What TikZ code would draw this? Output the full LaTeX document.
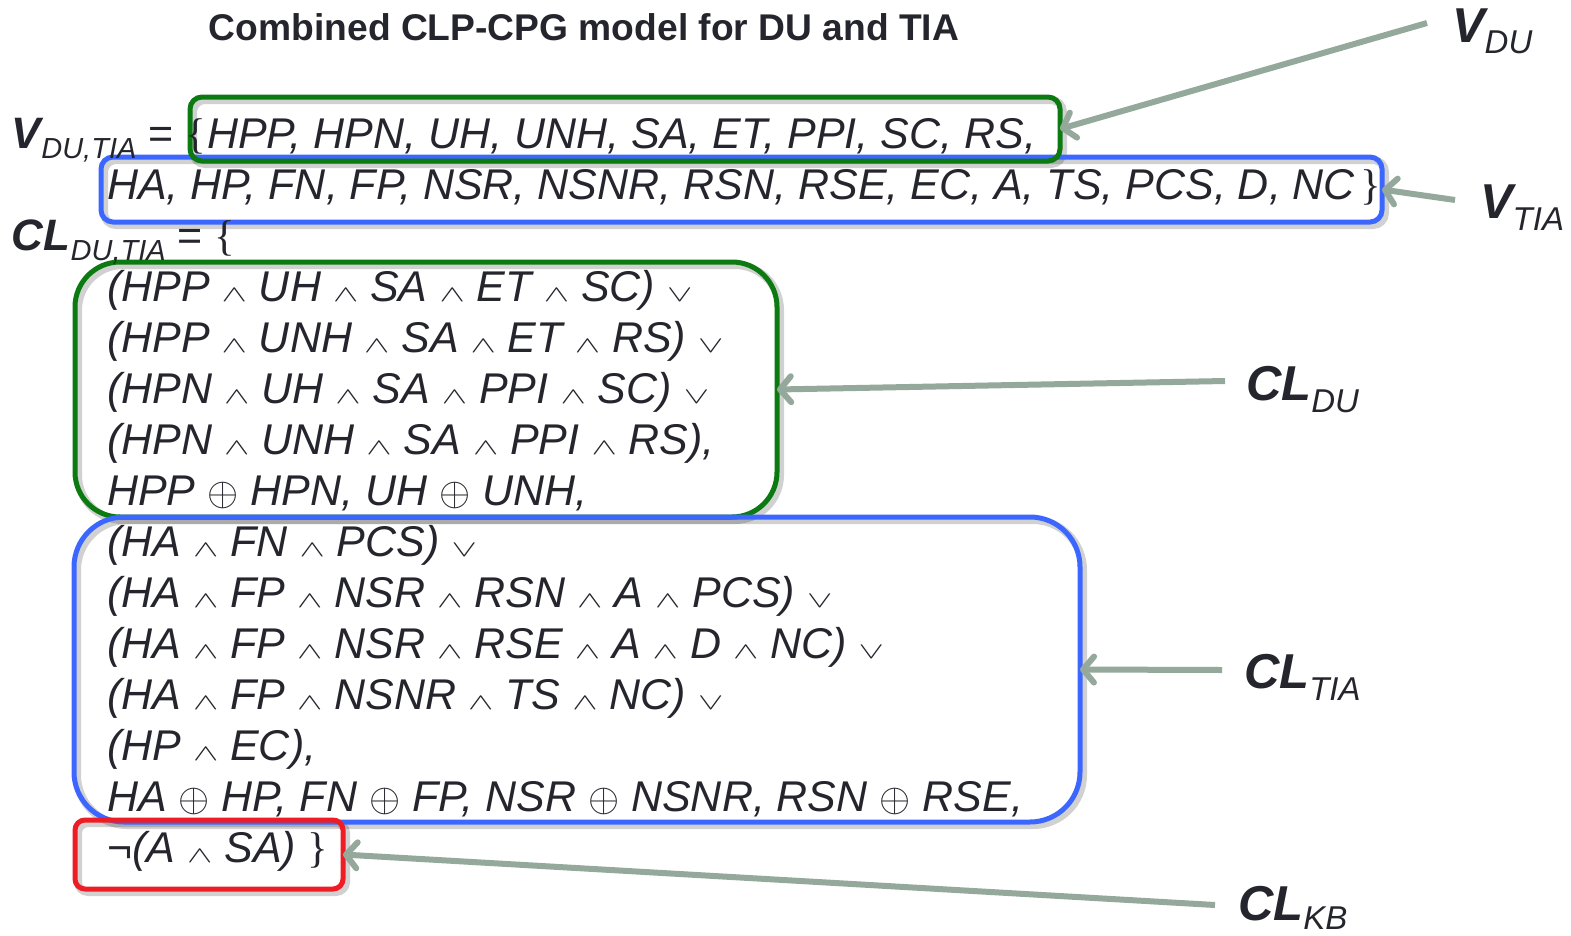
\documentclass[tikz,border=0pt]{standalone}
\usepackage{fontspec}
\usepackage{graphicx}
\setmainfont{Liberation Sans}
\newfontfamily\brfont{Liberation Serif}
\usetikzlibrary{arrows.meta}
\definecolor{ink}{HTML}{25252D}
\definecolor{arrc}{HTML}{94A89B}
\definecolor{dgreen}{HTML}{0B7A10}
\definecolor{mblue}{HTML}{3B66FF}
\definecolor{mred}{HTML}{EE1C25}
\newcommand\myand{{\fontsize{10}{10}\selectfont\scalebox{3.8}[2.3]{$\wedge$}}}
\newcommand\myor{{\fontsize{10}{10}\selectfont\scalebox{3.8}[2.3]{$\vee$}}}
\newcommand\myxor{{\fontsize{10}{10}\selectfont\scalebox{4.0}{$\oplus$}}}
\newcommand\mysub[1]{\raisebox{-10pt}{\fontsize{29}{29}\selectfont\itshape #1}}
\newcommand\bigsub[2]{\raisebox{-#1pt}{\fontsize{33}{33}\selectfont\itshape #2}}
\newcommand\lb{{\upshape\brfont\{}}
\newcommand\rb{{\upshape\brfont\}}}
\tikzset{
  ln/.style={anchor=base west, inner sep=0pt, outer sep=0pt, text=ink,
    font=\fontsize{43}{51}\selectfont\itshape},
  rl/.style={anchor=base west, inner sep=0pt, outer sep=0pt, text=ink,
    font=\fontsize{49}{49}\selectfont\itshape},
  shadowbox/.style={draw=black, draw opacity=0.18, line width=8pt, inner sep=0pt, outer sep=0pt},
  framebox/.style={draw=#1, line width=5pt, inner sep=0pt, outer sep=0pt},
  conn/.style={draw=arrc, line width=6pt, -{Straight Barb[length=11pt,width=26pt,round]}},
}
\newcommand\myshadow[6]{\node[shadowbox, minimum width=#4pt, minimum height=#5pt, rounded corners=#6pt] (#1s) at (#2+3,#3+3) {};}
\newcommand\myframe[7]{\node[framebox=#2, minimum width=#5pt, minimum height=#6pt, rounded corners=#7pt] (#1) at (#3,#4) {};}
\begin{document}
\begin{tikzpicture}[x=1pt,y=-1pt]
\useasboundingbox (0,0) rectangle (1571,935);
% title
\node[anchor=base, inner sep=0pt, text=ink, font=\fontsize{37.2}{37}\selectfont\bfseries] (title) at (584,40) {Combined CLP-CPG model for DU and TIA};
% shadows
\myshadow{bVTIA}{741.5}{189.5}{1281}{65}{12}
\myshadow{bVDU}{625}{129}{870}{64}{12}
\myshadow{bCLDU}{426}{389.5}{702}{255}{45}
\myshadow{bCLTIA}{577}{669.5}{1006}{305}{50}
\myshadow{bCLKB}{209}{854.5}{268}{69}{10}
% frames
\myframe{bVTIA}{mblue}{741.5}{189.5}{1281}{65}{12}
\myframe{bVDU}{dgreen}{625}{129}{870}{64}{12}
\myframe{bCLDU}{dgreen}{426}{389.5}{702}{255}{45}
\myframe{bCLTIA}{mblue}{577}{669.5}{1006}{305}{50}
\myframe{bCLKB}{mred}{209}{854.5}{268}{69}{10}
% left text
\node[ln] (vlab) at (12,148) {{\fontsize{44}{44}\selectfont\bfseries V}\mysub{DU,TIA}\upshape{} = \lb};
\node[ln] (l1) at (207,148) {HPP, HPN, UH, UNH, SA, ET, PPI, SC, RS,};
\node[ln] (l2) at (107,199) {HA, HP, FN, FP, NSR, NSNR, RSN, RSE, EC, A, TS, PCS, D, NC\hspace{5pt}\rb};
\node[ln] (cllab) at (12,250) {{\fontsize{44}{44}\selectfont\bfseries CL}\mysub{DU,TIA}\upshape{} = \lb};
\node[ln] (l4) at (107,301) {(HPP \myand{} UH \myand{} SA \myand{} ET \myand{} SC) \myor};
\node[ln] (l5) at (107,352) {(HPP \myand{} UNH \myand{} SA \myand{} ET \myand{} RS) \myor};
\node[ln] (l6) at (107,403) {(HPN \myand{} UH \myand{} SA \myand{} PPI \myand{} SC) \myor};
\node[ln] (l7) at (107,454) {(HPN \myand{} UNH \myand{} SA \myand{} PPI \myand{} RS),};
\node[ln] (l8) at (107,505) {HPP \myxor{} HPN, UH \myxor{} UNH,};
\node[ln] (l9) at (107,556) {(HA \myand{} FN \myand{} PCS) \myor};
\node[ln] (l10) at (107,607) {(HA \myand{} FP \myand{} NSR \myand{} RSN \myand{} A \myand{} PCS) \myor};
\node[ln] (l11) at (107,658) {(HA \myand{} FP \myand{} NSR \myand{} RSE \myand{} A \myand{} D \myand{} NC) \myor};
\node[ln] (l12) at (107,709) {(HA \myand{} FP \myand{} NSNR \myand{} TS \myand{} NC) \myor};
\node[ln] (l13) at (107,760) {(HP \myand{} EC),};
\node[ln] (l14) at (107,811) {HA \myxor{} HP, FN \myxor{} FP, NSR \myxor{} NSNR, RSN \myxor{} RSE,};
\node[ln] (l15) at (107,862) {{\upshape ¬}(A \myand{} SA) \rb};
% right labels
\node[rl] (rVDU) at (1452,42) {{\bfseries V}\bigsub{11}{DU}};
\node[rl] (rVTIA) at (1480,218) {{\bfseries V}\bigsub{12}{TIA}};
\node[rl] (rCLDU) at (1246,400) {{\bfseries CL}\bigsub{12}{DU}};
\node[rl] (rCLTIA) at (1244,688) {{\bfseries CL}\bigsub{12}{TIA}};
\node[rl] (rCLKB) at (1238,920) {{\bfseries CL}\bigsub{9}{KB}};
% arrow tails
\coordinate (tVDU) at (1427,23);
\coordinate (tVTIA) at (1455,200);
\coordinate (tCLDU) at (1225,381);
\coordinate (tCLTIA) at (1222,670);
\coordinate (tCLKB) at (1215,905);
\draw[conn] (tVDU) -- (bVDU.east);
\draw[conn] (tVTIA) -- (bVTIA.east);
\draw[conn] (tCLDU) -- (bCLDU.east);
\draw[conn] (tCLTIA) -- (bCLTIA.east);
\draw[conn] (tCLKB) -- (bCLKB.east);
\end{tikzpicture}
\end{document}
